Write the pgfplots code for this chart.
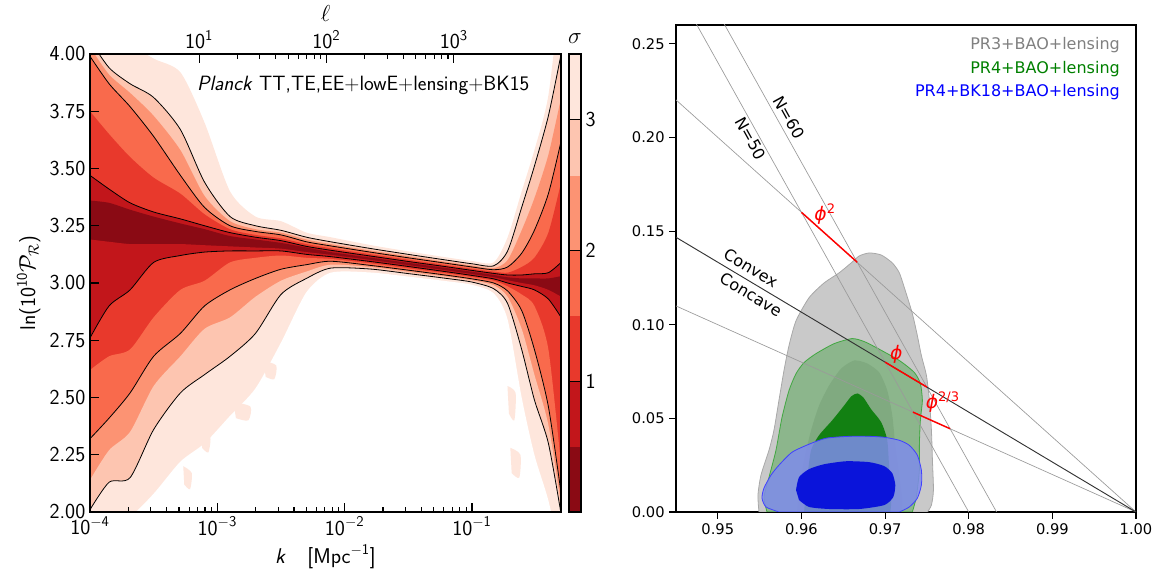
\documentclass[border=0pt]{standalone}
\usepackage{pgfplots}
\pgfplotsset{compat=1.18}
\usepackage{pgfplotstable}
\usepackage{fontspec}
\setmainfont{DejaVu Sans}

\definecolor{s05}{HTML}{8A0A14}
\definecolor{s1}{HTML}{C2161B}
\definecolor{s15}{HTML}{E8392C}
\definecolor{s2}{HTML}{F96A4C}
\definecolor{s25}{HTML}{FC9373}
\definecolor{s3}{HTML}{FDC5B0}
\definecolor{s35}{HTML}{FEE6DC}
\definecolor{pgray}{HTML}{C9C9C9}
\definecolor{pgrayin}{HTML}{B8B8B8}
\definecolor{pgrayedge}{HTML}{A8A8A8}
\definecolor{pgreen}{HTML}{128012}
\definecolor{pblue}{HTML}{0A14DA}
\definecolor{pblueout}{HTML}{7F8CEB}
\definecolor{lgray}{HTML}{9A9A9A}

\newcommand{\lf}{\sffamily\fontsize{16}{19}\selectfont}
\newcommand{\rf}{\fontsize{11}{13}\selectfont}

% sigma contour boundaries: k, upper/lower ln(10^10 P_R) at sigma = 3.5,3,2.5,2,1.5,1,0.5
\pgfplotstableread{
k U35 U3 U25 U2 U15 U1 U05 L05 L1 L15 L2 L25 L3 L35
1.000e-4 4.30 4.06 4.03 3.99 3.75 3.47 3.36 3.19 2.76 2.62 2.32 2.14 2.01 1.90
1.413e-4 4.20 3.94 3.91 3.87 3.65 3.41 3.35 3.18 2.90 2.68 2.41 2.27 2.13 1.95
2.065e-4 4.05 3.87 3.83 3.77 3.55 3.35 3.32 3.17 2.97 2.71 2.52 2.35 2.15 1.98
3.162e-4 3.98 3.81 3.73 3.64 3.46 3.31 3.29 3.17 3.09 2.85 2.68 2.55 2.36 2.08
5.129e-4 3.92 3.67 3.58 3.47 3.39 3.28 3.26 3.17 3.12 2.97 2.78 2.68 2.52 2.22
7.943e-4 3.70 3.44 3.38 3.33 3.30 3.25 3.235 3.165 3.135 3.01 2.90 2.80 2.60 2.30
1.259e-3 3.40 3.29 3.27 3.25 3.235 3.22 3.205 3.16 3.14 3.09 2.97 2.85 2.68 2.42
1.995e-3 3.29 3.25 3.235 3.225 3.21 3.20 3.19 3.155 3.14 3.11 3.02 2.94 2.78 2.54
3.162e-3 3.27 3.23 3.22 3.21 3.195 3.185 3.175 3.15 3.14 3.12 3.06 3.01 2.95 2.74
5.012e-3 3.22 3.20 3.19 3.18 3.17 3.16 3.155 3.135 3.125 3.11 3.08 3.05 3.02 2.96
7.762e-3 3.20 3.18 3.17 3.162 3.152 3.143 3.135 3.123 3.115 3.105 3.095 3.08 3.065 3.045
1.585e-2 3.166 3.151 3.142 3.135 3.126 3.118 3.111 3.101 3.094 3.086 3.077 3.07 3.061 3.046
3.162e-2 3.138 3.125 3.117 3.11 3.102 3.094 3.088 3.078 3.072 3.064 3.056 3.049 3.041 3.028
6.310e-2 3.112 3.10 3.092 3.086 3.078 3.071 3.065 3.055 3.049 3.042 3.034 3.028 3.02 3.008
0.1000 3.096 3.084 3.076 3.07 3.062 3.055 3.049 3.039 3.033 3.026 3.018 3.012 3.004 2.992
0.1479 3.09 3.075 3.065 3.058 3.05 3.042 3.035 3.025 3.018 3.01 3.0 2.99 2.975 2.955
0.1905 3.20 3.14 3.10 3.07 3.045 3.035 3.025 3.012 3.0 2.985 2.965 2.94 2.91 2.84
0.2455 3.40 3.33 3.23 3.13 3.07 3.035 3.02 3.0 2.985 2.95 2.88 2.80 2.71 2.50
0.3090 3.58 3.51 3.37 3.23 3.11 3.04 3.02 2.99 2.97 2.90 2.71 2.60 2.49 2.25
0.3981 3.82 3.73 3.56 3.39 3.22 3.045 3.02 2.97 2.93 2.71 2.46 2.38 2.30 2.05
0.5012 4.30 4.00 3.81 3.62 3.44 3.09 3.03 2.94 2.85 2.20 2.08 2.03 1.99 1.80
}\lp

\begin{document}
\begin{tikzpicture}
\path (0pt,0pt) rectangle (867.75pt,431.25pt);

% ---------------- left panel ----------------
\begin{axis}[at={(67.5pt,47.25pt)}, anchor=south west, scale only axis,
  width=353.25pt, height=343.5pt,
  xmode=log, xmin=1e-4, xmax=0.5, ymin=2, ymax=4,
  axis on top,
  xtick={1e-4,1e-3,1e-2,1e-1},
  xticklabels={10\textsuperscript{$-$4},10\textsuperscript{$-$3},10\textsuperscript{$-$2},10\textsuperscript{$-$1}},
  ytick={2,2.25,2.5,2.75,3,3.25,3.5,3.75,4},
  xtick pos=left, ytick pos=left, tick align=inside,
  axis line style={line width=1.5pt},
  major tick length=7pt, minor tick length=4pt,
  every tick/.style={black, line width=0.8pt},
  ticklabel style={font=\lf},
  /pgf/number format/assume math mode=true,
  yticklabel style={/pgf/number format/.cd, fixed, fixed zerofill, precision=2},
  xlabel={\textit{k}\quad[Mpc\textsuperscript{$-$1}]},
  ylabel={ln(10\textsuperscript{10}$\mathcal{P}_{\mathcal{R}}$)},
  label style={font=\lf},
  every axis plot/.append style={smooth, tension=0.45},
]
% painter's order: upper boundaries (outer to inner), then lower boundaries (inner to outer)
\addplot[fill=s35, draw=none] table[x=k,y=U35]{\lp} \closedcycle;
\addplot[fill=s3, draw=none] table[x=k,y=U3]{\lp} \closedcycle;
\addplot[fill=s25, draw=none] table[x=k,y=U25]{\lp} \closedcycle;
\addplot[fill=s2, draw=none] table[x=k,y=U2]{\lp} \closedcycle;
\addplot[fill=s15, draw=none] table[x=k,y=U15]{\lp} \closedcycle;
\addplot[fill=s1, draw=none] table[x=k,y=U1]{\lp} \closedcycle;
\addplot[fill=s05, draw=none] table[x=k,y=U05]{\lp} \closedcycle;
\addplot[fill=s1, draw=none] table[x=k,y=L05]{\lp} \closedcycle;
\addplot[fill=s15, draw=none] table[x=k,y=L1]{\lp} \closedcycle;
\addplot[fill=s2, draw=none] table[x=k,y=L15]{\lp} \closedcycle;
\addplot[fill=s25, draw=none] table[x=k,y=L2]{\lp} \closedcycle;
\addplot[fill=s3, draw=none] table[x=k,y=L25]{\lp} \closedcycle;
\addplot[fill=s35, draw=none] table[x=k,y=L3]{\lp} \closedcycle;
\addplot[fill=white, draw=none] table[x=k,y=L35]{\lp} \closedcycle;
% isolated low-probability patches
\addplot[fill=s35, draw=none] coordinates {(5.4e-4,2.20) (6.3e-4,2.17) (6.1e-4,2.10) (5.5e-4,2.12)} -- cycle;
\addplot[fill=s35, draw=none] coordinates {(7.4e-4,2.36) (8.8e-4,2.33) (8.5e-4,2.26) (7.6e-4,2.28)} -- cycle;
\addplot[fill=s35, draw=none] coordinates {(1.34e-3,2.48) (1.82e-3,2.46) (1.75e-3,2.40) (1.40e-3,2.41)} -- cycle;
\addplot[fill=s35, draw=none] coordinates {(2.3e-3,2.66) (2.9e-3,2.64) (2.8e-3,2.58) (2.4e-3,2.59)} -- cycle;
\addplot[fill=s35, draw=none] coordinates {(0.19,2.55) (0.22,2.52) (0.215,2.40) (0.195,2.43)} -- cycle;
\addplot[fill=s35, draw=none] coordinates {(0.20,2.28) (0.24,2.25) (0.235,2.15) (0.205,2.17)} -- cycle;
\addplot[black, line width=0.6pt] table[x=k,y=U3]{\lp};
\addplot[black, line width=0.6pt] table[x=k,y=L3]{\lp};
\addplot[black, line width=0.6pt] table[x=k,y=U2]{\lp};
\addplot[black, line width=0.6pt] table[x=k,y=L2]{\lp};
\addplot[black, line width=0.6pt] table[x=k,y=U1]{\lp};
\addplot[black, line width=0.6pt] table[x=k,y=L1]{\lp};
\node[font=\sffamily\fontsize{15.5}{18}\selectfont] at (rel axis cs:0.58,0.932) {\textit{Planck} TT,TE,EE+lowE+lensing+BK15};
\end{axis}

% top ell axis
\begin{axis}[at={(67.5pt,47.25pt)}, anchor=south west, scale only axis,
  width=353.25pt, height=343.5pt,
  xmode=log, xmin=1.39, xmax=6950, ymin=0, ymax=1,
  axis x line*=top, axis y line=none,
  xtick={10,100,1000},
  xticklabels={10\textsuperscript{1},10\textsuperscript{2},10\textsuperscript{3}},
  tick align=inside,
  axis line style={line width=1.5pt},
  major tick length=7pt, minor tick length=4pt,
  every tick/.style={black, line width=0.8pt},
  ticklabel style={font=\lf},
  xlabel={$\ell$}, label style={font=\lf},
]
\addplot[draw=none] coordinates {(10,0.5) (100,0.5)};
\end{axis}

% colorbar
\begin{axis}[at={(426.75pt,47.25pt)}, anchor=south west, scale only axis,
  width=9pt, height=343.5pt,
  xmin=0, xmax=1, ymin=0, ymax=3.5,
  xtick=\empty, ytick={1,2,3}, yticklabel pos=right,
  major tick length=0pt,
  axis on top,
  axis line style={line width=1.5pt},
  ticklabel style={font=\lf},
  /pgf/number format/assume math mode=true,
  title={$\sigma$}, title style={font=\lf, yshift=-2pt},
]
\addplot[fill=s05, draw=none] coordinates {(0,0) (1,0) (1,0.5) (0,0.5)} -- cycle;
\addplot[fill=s1, draw=none] coordinates {(0,0.5) (1,0.5) (1,1) (0,1)} -- cycle;
\addplot[fill=s15, draw=none] coordinates {(0,1) (1,1) (1,1.5) (0,1.5)} -- cycle;
\addplot[fill=s2, draw=none] coordinates {(0,1.5) (1,1.5) (1,2) (0,2)} -- cycle;
\addplot[fill=s25, draw=none] coordinates {(0,2) (1,2) (1,2.57) (0,2.57)} -- cycle;
\addplot[fill=s3, draw=none] coordinates {(0,2.57) (1,2.57) (1,3) (0,3)} -- cycle;
\addplot[fill=s35, draw=none] coordinates {(0,3) (1,3) (1,3.5) (0,3.5)} -- cycle;
\addplot[black, line width=0.8pt] coordinates {(0,1) (1,1)};
\addplot[black, line width=0.8pt] coordinates {(0,2) (1,2)};
\addplot[black, line width=0.8pt] coordinates {(0,3) (1,3)};
\end{axis}

% ---------------- right panel ----------------
\begin{axis}[at={(507pt,47.25pt)}, anchor=south west, scale only axis,
  width=345pt, height=365.25pt,
  xmin=0.945, xmax=1.0, ymin=0, ymax=0.26,
  xtick={0.95,0.96,0.97,0.98,0.99,1.0},
  ytick={0,0.05,0.1,0.15,0.2,0.25},
  xtick pos=left, ytick pos=left, tick align=outside,
  major tick length=5pt,
  every tick/.style={black, line width=0.8pt},
  axis line style={line width=1.5pt},
  ticklabel style={font=\rf},
  /pgf/number format/assume math mode=true,
  xticklabel style={/pgf/number format/.cd, fixed, fixed zerofill, precision=2},
  yticklabel style={/pgf/number format/.cd, fixed, fixed zerofill, precision=2},
  clip=true,
]
% PR3 + BAO + lensing (gray)
\addplot[fill=pgray, draw=pgrayedge, line width=0.6pt, smooth, tension=0.4] coordinates {
(0.95492,0) (0.95480,0.0090) (0.95516,0.0197) (0.95612,0.0330) (0.95671,0.0436)
(0.95731,0.0596) (0.95791,0.0755) (0.95851,0.0888) (0.95935,0.1021) (0.96091,0.1144)
(0.96271,0.1223) (0.96451,0.1277) (0.96595,0.1330) (0.96691,0.1367) (0.96811,0.1383)
(0.96954,0.1372) (0.97086,0.1330) (0.97170,0.1277) (0.97242,0.1181) (0.97326,0.1059)
(0.97386,0.0941) (0.97434,0.0835) (0.97494,0.0729) (0.97530,0.0596) (0.97554,0.0436)
(0.97566,0.0277) (0.97578,0.0117) (0.97554,0.0037) (0.97506,0)} -- cycle;
\addplot[fill=pgrayin, draw=none, smooth, tension=0.4] coordinates {
(0.95947,0) (0.95971,0.0117) (0.96031,0.0277) (0.96115,0.0436) (0.96211,0.0569)
(0.96331,0.0676) (0.96475,0.0766) (0.96631,0.0809) (0.96787,0.0793) (0.96930,0.0745)
(0.97026,0.0649) (0.97086,0.0516) (0.97122,0.0356) (0.97170,0.0197) (0.97206,0.0064)
(0.97194,0)} -- cycle;
% PR4 + BAO + lensing (green)
\addplot[fill=green!55!black, fill opacity=0.3, draw=green!60!black, draw opacity=0.6, line width=0.6pt, smooth, tension=0.4] coordinates {
(0.95588,0) (0.95552,0.0080) (0.95612,0.0186) (0.95695,0.0330) (0.95767,0.0505)
(0.95851,0.0649) (0.95935,0.0739) (0.96031,0.0798) (0.96175,0.0846) (0.96391,0.0899)
(0.96607,0.0926) (0.96751,0.0910) (0.96894,0.0878) (0.97170,0.0809) (0.97350,0.0745)
(0.97422,0.0686) (0.97446,0.0596) (0.97422,0.0489) (0.97410,0.0356) (0.97410,0.0223)
(0.97374,0.0080) (0.97326,0)} -- cycle;
\addplot[fill=pgreen, draw=none, smooth, tension=0.4] coordinates {
(0.96031,0) (0.96067,0.0170) (0.96115,0.0330) (0.96211,0.0410) (0.96367,0.0489)
(0.96511,0.0569) (0.96595,0.0617) (0.96667,0.0633) (0.96739,0.0612) (0.96834,0.0548)
(0.96954,0.0479) (0.97026,0.0383) (0.97050,0.0223) (0.97074,0.0064) (0.97062,0)} -- cycle;
% PR4 + BK18 + BAO + lensing (blue)
\addplot[fill=pblueout, fill opacity=0.85, draw=blue!75!white, line width=0.6pt, smooth, tension=0.4] coordinates {
(0.95731,0) (0.95576,0.0027) (0.95528,0.0074) (0.95552,0.0128) (0.95636,0.0197)
(0.95731,0.0250) (0.95887,0.0319) (0.96091,0.0362) (0.96295,0.0394) (0.96571,0.0404)
(0.96811,0.0404) (0.96990,0.0399) (0.97170,0.0383) (0.97290,0.0356) (0.97386,0.0303)
(0.97434,0.0223) (0.97434,0.0144) (0.97386,0.0074) (0.97290,0.0027) (0.97170,0)} -- cycle;
\addplot[fill=pblue, draw=none, smooth, tension=0.4] coordinates {
(0.95935,0.0117) (0.95971,0.0186) (0.96091,0.0229) (0.96271,0.0255) (0.96535,0.0271)
(0.96811,0.0266) (0.96990,0.0245) (0.97086,0.0207) (0.97122,0.0144) (0.97098,0.0080)
(0.96990,0.0037) (0.96691,0.0016) (0.96331,0.0016) (0.96091,0.0027) (0.95971,0.0064)} -- cycle;
% model lines
\addplot[lgray, line width=0.5pt] coordinates {(0.945,0.28) (0.98,0)};
\addplot[lgray, line width=0.5pt] coordinates {(0.945,0.30667) (0.98333,0)};
\addplot[lgray, line width=0.5pt] coordinates {(0.945,0.22) (1.0,0)};
\addplot[lgray, line width=0.5pt] coordinates {(0.945,0.11) (1.0,0)};
\addplot[black!80, line width=0.7pt] coordinates {(0.945,0.14667) (1.0,0)};
\addplot[red, line width=1.1pt] coordinates {(0.96,0.16) (0.96667,0.13333)};
\addplot[red, line width=1.1pt] coordinates {(0.97,0.08) (0.975,0.06667)};
\addplot[red, line width=1.1pt] coordinates {(0.97333,0.05333) (0.97778,0.04444)};
% annotations
\node[rotate=-61, font=\fontsize{12}{14}\selectfont] at (axis cs:0.95396,0.1995) {N=50};
\node[rotate=-61, font=\fontsize{12}{14}\selectfont] at (axis cs:0.95851,0.2106) {N=60};
\node[rotate=-31, font=\fontsize{12}{14}\selectfont] at (axis cs:0.95396,0.1303) {Convex};
\node[rotate=-31, font=\fontsize{12}{14}\selectfont] at (axis cs:0.95396,0.1160) {Concave};
\node[red, font=\fontsize{14}{16}\selectfont] at (axis cs:0.96283,0.1590) {\textit{ϕ}\textsuperscript{2}};
\node[red, font=\fontsize{14}{16}\selectfont] at (axis cs:0.97134,0.0840) {\textit{ϕ}};
\node[red, font=\fontsize{14}{16}\selectfont] at (axis cs:0.97690,0.0585) {\textit{ϕ}\textsuperscript{2/3}};
\node[anchor=east, text=gray, font=\fontsize{12}{14}\selectfont] at (rel axis cs:0.975,0.959) {PR3+BAO+lensing};
\node[anchor=east, text=green!50!black, font=\fontsize{12}{14}\selectfont] at (rel axis cs:0.975,0.910) {PR4+BAO+lensing};
\node[anchor=east, text=blue, font=\fontsize{12}{14}\selectfont] at (rel axis cs:0.975,0.862) {PR4+BK18+BAO+lensing};
\node[font=\fontsize{13}{15}\selectfont] at (rel axis cs:0.5,-0.078) {n\textsubscript{s}};
\node[rotate=90, font=\fontsize{13}{15}\selectfont] at (rel axis cs:-0.057,0.497) {$r$};
\end{axis}
\end{tikzpicture}
\end{document}
